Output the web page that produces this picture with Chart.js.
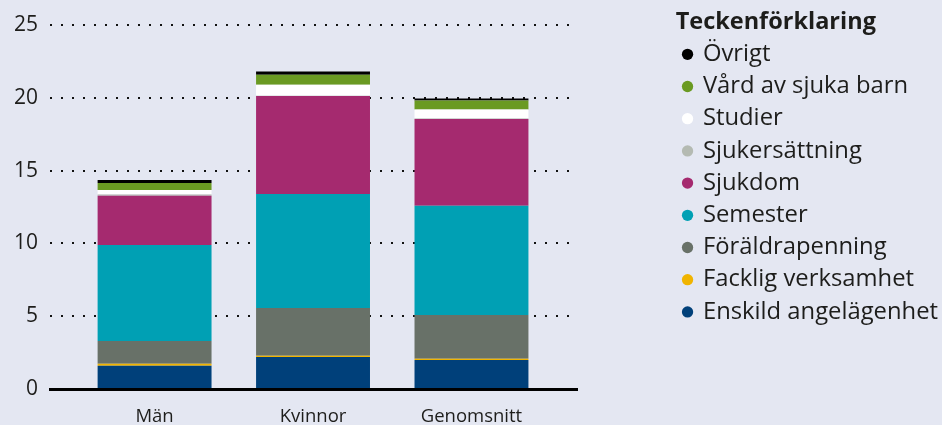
<!DOCTYPE html>
<html>
<head>
<meta charset="utf-8">
<script src="https://cdn.jsdelivr.net/npm/chart.js@4/dist/chart.umd.min.js"></script>
<style>
  html, body { margin: 0; padding: 0; background: #e4e7f2; }
  #wrap { width: 942px; height: 425px; position: relative; }
</style>
</head>
<body>
<div id="wrap"><canvas id="c"></canvas></div>
<script>
// ---- Data (days) ----
const categories = ['Män', 'Kvinnor', 'Genomsnitt'];
const enskildAngelagenhet = [1.60, 2.20, 1.99];
const fackligVerksamhet   = [0.14, 0.09, 0.09];
const foraldrapenning     = [1.56, 3.28, 3.00];
const semester            = [6.59, 7.83, 7.51];
const sjukdom             = [3.39, 6.73, 5.95];
const sjukersattning      = [0.07, 0.01, 0.03];
const studier             = [0.32, 0.76, 0.62];
const vardAvSjukaBarn     = [0.48, 0.69, 0.62];
const ovrigt              = [0.21, 0.21, 0.14];
const yTicks = [0, 5, 10, 15, 20, 25];

const seriesNames = ['Enskild angelägenhet', 'Facklig verksamhet', 'Föräldrapenning', 'Semester',
  'Sjukdom', 'Sjukersättning', 'Studier', 'Vård av sjuka barn', 'Övrigt'];
const seriesValues = [enskildAngelagenhet, fackligVerksamhet, foraldrapenning, semester,
  sjukdom, sjukersattning, studier, vardAvSjukaBarn, ovrigt];
const seriesColors = ['#00407a', '#f0b400', '#687168', '#00a0b4',
  '#a52a6f', '#b4bab2', '#ffffff', '#6a9a22', '#000000'];

const FONT = "'Open Sans', 'Noto Sans', sans-serif";
const TEXT = '#1d1d1b';

const datasets = seriesNames.map((name, i) => ({
  label: name,
  data: seriesValues[i],
  backgroundColor: seriesColors[i],
  borderWidth: 0,
  barPercentage: 0.719,
  categoryPercentage: 1.0
}));

new Chart(document.getElementById('c'), {
  type: 'bar',
  data: { labels: categories.map((_, i) => i), datasets },
  options: {
    responsive: true,
    maintainAspectRatio: false,
    animation: false,
    layout: { padding: { left: 0, right: -6, top: 0, bottom: 0 } },
    plugins: {
      tooltip: { enabled: false },
      legend: {
        position: 'right',
        align: 'start',
        reverse: true,
        maxWidth: 400,
        title: {
          display: true,
          position: 'start',
          text: 'Teckenförklaring',
          color: TEXT,
          font: { family: FONT, size: 23.5, weight: 'bold', lineHeight: 1 },
          padding: { top: 10.5, bottom: 0 }
        },
        labels: {
          usePointStyle: true,
          pointStyle: 'circle',
          boxWidth: 7,
          boxHeight: 8,
          padding: 8.4,
          color: TEXT,
          font: { family: FONT, size: 23.8 }
        }
      }
    },
    scales: {
      x: {
        type: 'linear',
        position: 'bottom',
        stacked: true,
        offset: false,
        min: -0.66,
        max: 2.67,
        z: 1,
        grid: { display: false, drawTicks: false, offset: false },
        border: { display: true, color: '#000000', width: 3 },
        afterBuildTicks: s => { s.ticks = s.ticks.filter(t => Number.isInteger(t.value) && t.value >= 0 && t.value < categories.length); },
        afterFit: s => { s.height = 36; },
        ticks: {
          stepSize: 1,
          autoSkip: false,
          maxRotation: 0,
          padding: 17,
          color: TEXT,
          font: { family: FONT, size: 18.5 },
          callback: v => categories[v] ?? ''
        }
      },
      xTop: {
        type: 'linear',
        position: 'top',
        display: true,
        grid: { display: false, drawTicks: false },
        border: { display: false },
        ticks: { display: false },
        afterFit: s => { s.height = 25; }
      },
      y: {
        stacked: true,
        min: 0,
        max: 25,
        afterBuildTicks: s => { s.ticks = yTicks.map(v => ({ value: v })); },
        afterFit: s => { s.width = 50; },
        grid: { color: '#111111', lineWidth: 2, drawTicks: false },
        border: { display: false, dash: [2, 9] },
        ticks: {
          padding: 12,
          color: TEXT,
          font: { family: FONT, size: 21 }
        }
      },
      yRight: {
        type: 'linear',
        position: 'right',
        display: true,
        grid: { display: false, drawTicks: false },
        border: { display: false },
        ticks: { display: false },
        afterFit: s => { s.width = 98; }
      }
    }
  }
});
</script>
</body>
</html>
